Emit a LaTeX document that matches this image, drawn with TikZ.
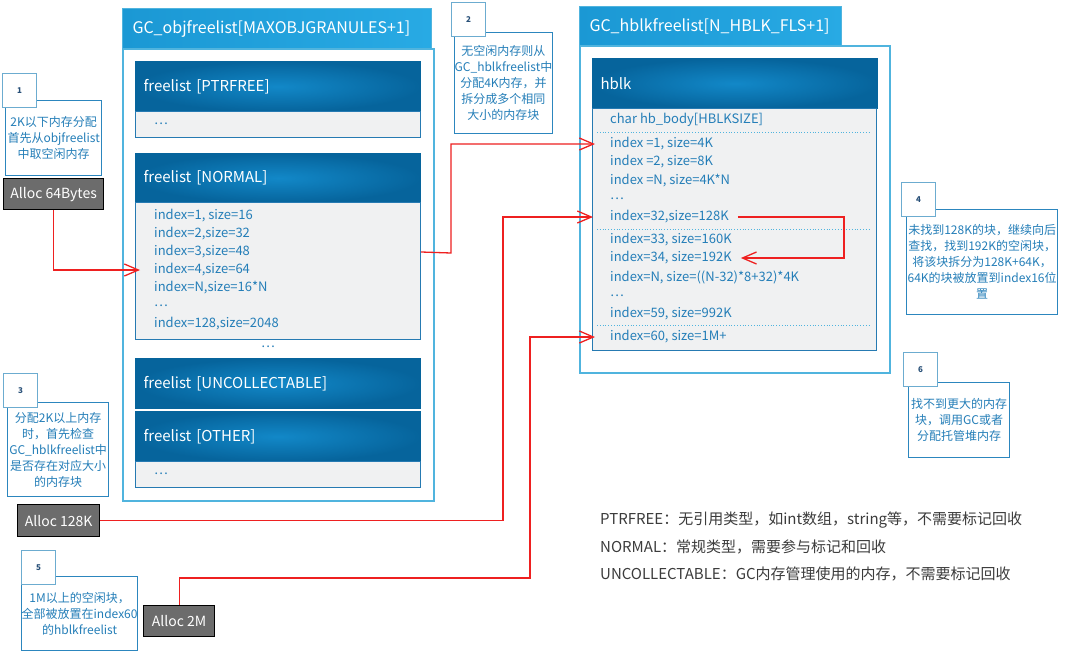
\documentclass[tikz,border=0pt]{standalone}
\usepackage{fontspec}
\setmainfont{Noto Sans CJK SC}
\usepackage{xcolor}
\usepackage{tikz}
\usetikzlibrary{arrows.meta, positioning}
\definecolor{tabblue}{RGB}{27,152,212}
\definecolor{tablight}{RGB}{40,170,228}
\definecolor{hdark}{RGB}{6,100,156}
\definecolor{hmid}{RGB}{18,136,200}
\definecolor{lineblue}{RGB}{80,180,222}
\definecolor{bordblue}{RGB}{38,122,178}
\definecolor{bodygray}{RGB}{240,241,242}
\definecolor{txtblue}{RGB}{36,126,184}
\definecolor{allocgray}{RGB}{108,108,108}
\definecolor{arrred}{RGB}{238,32,32}
\definecolor{notebord}{RGB}{44,134,190}
\definecolor{numbord}{RGB}{108,172,208}
\definecolor{numtext}{RGB}{40,80,120}
\definecolor{legtext}{RGB}{60,60,60}
\tikzstyle{outerbox} = [rectangle, anchor=north west, draw=lineblue, line width=1.5pt, fill=white, inner sep=0]
\tikzstyle{tabbox} = [rectangle, anchor=north west, draw=lineblue, line width=1pt, left color=tabblue, right color=tablight, text=white, inner xsep=10pt, inner ysep=0, align=left, font=\fontsize{16}{19}\selectfont]
\tikzstyle{listhead} = [rectangle, anchor=north west, draw=hdark, line width=1pt, inner color=hmid, outer color=hdark, text=white, text width=269pt, inner xsep=8pt, inner ysep=0, align=left, font=\fontsize{15}{18}\selectfont]
\tikzstyle{listbody} = [rectangle, anchor=north west, draw=bordblue, line width=1.2pt, fill=bodygray, minimum width=285pt, inner sep=0]
\tikzstyle{entry} = [anchor=west, inner xsep=3pt, inner ysep=1pt, text=txtblue, font=\fontsize{13}{15}\selectfont]
\tikzstyle{alloc} = [rectangle, anchor=north west, draw=black, line width=1.3pt, fill=allocgray, text=white, inner sep=0, font=\fontsize{14}{16}\selectfont]
\tikzstyle{note} = [rectangle, anchor=north west, draw=notebord, line width=1.3pt, fill=white, text=txtblue, align=center, inner sep=0, font=\fontsize{12}{16}\selectfont]
\tikzstyle{numbox} = [rectangle, anchor=north west, draw=numbord, line width=1.3pt, fill=white, minimum width=34pt, minimum height=34pt, text=numtext, inner sep=0, font=\fontsize{8}{10}\selectfont\bfseries]
\tikzstyle{legend} = [anchor=west, text=legtext, inner sep=0, font=\fontsize{15}{18}\selectfont]
\tikzstyle{sepline} = [draw=lineblue, dotted, line width=0.8pt]
\tikzstyle{redline} = [draw=arrred, line width=1.3pt]
\tikzstyle{redarrow} = [redline, -{Straight Barb[length=14pt,width=12pt]}]

\begin{document}
\begin{tikzpicture}[x=1pt, y=-1pt]
	\fill[white] (0,0) rectangle (1080,654);
	\useasboundingbox (0,0) rectangle (1080,654);

	\node (objbox) [outerbox, minimum width=311pt, minimum height=452pt] at (122,48) {};
	\node (objtab) [tabbox, text width=289pt, minimum height=40pt] at (122,8) {GC\_objfreelist[MAXOBJGRANULES+1]};
	\node (phead) [listhead, minimum height=50pt] at (135,61) {freelist [PTRFREE]};
	\node (pbody) [listbody, minimum height=26pt] at (135,111) {};
	\node (pd) [entry] at (151,124) {\ldots};
	\node (nhead) [listhead, minimum height=49pt] at (135,153) {freelist [NORMAL]};
	\node (nbody) [listbody, minimum height=137pt] at (135,202) {};
	\foreach \t [count=\i] in {{index=1, size=16}, {index=2,size=32}, {index=3,size=48}, {index=4,size=64}, {index=N,size=16*N}, {\ldots}, {index=128,size=2048}}
		\node (n\i) [entry] at (151,198+18*\i) {\t};
	\node (md) [entry] at (258,347) {\ldots};
	\node (uhead) [listhead, minimum height=50pt] at (135,358) {freelist [UNCOLLECTABLE]};
	\node (ohead) [listhead, minimum height=50pt] at (135,411) {freelist [OTHER]};
	\node (obody) [listbody, minimum height=26pt] at (135,461) {};
	\node (od) [entry] at (151,474) {\ldots};

	\node (hblkbox) [outerbox, minimum width=310pt, minimum height=327pt] at (579,45) {};
	\node (hblktab) [tabbox, text width=242pt, minimum height=39pt] at (579,6) {GC\_hblkfreelist[N\_HBLK\_FLS+1]};
	\node (hhead) [listhead, minimum height=50pt] at (592,58) {hblk};
	\node (hbody) [listbody, minimum width=284pt, minimum height=242pt] at (592,108) {};
	\foreach \y/\t/\nm in {120/{char hb\_body[HBLKSIZE]}/hb, 144/{index =1, size=4K}/h1, 162/{index =2, size=8K}/h2, 181/{index =N, size=4K*N}/hN, 199/{\ldots}/hd1, 217/{index=32,size=128K}/h32, 240/{index=33, size=160K}/h33, 258/{index=34, size=192K}/h34, 277/{index=N, size=((N-32)*8+32)*4K}/hM, 296/{\ldots}/hd2, 314/{index=59, size=992K}/h59, 337/{index=60, size=1M+}/h60}
		\node (\nm) [entry] at (607,\y) {\t};
	\foreach \y in {132,229,325}
		\draw[sepline] (597,\y) -- (871,\y);

	\node (note1) [note, minimum width=96pt, minimum height=75pt] at (5,100) {2K以下内存分配\\首先从objfreelist\\中取空闲内存};
	\node (num1) [numbox] at (2,73) {1};
	\node (note2) [note, minimum width=95pt, minimum height=101pt] at (454,32) {无空闲内存则从\\GC\_hblkfreelist中\\分配4K内存，并\\拆分成多个相同\\大小的内存块};
	\node (num2) [numbox] at (451,2) {2};
	\node (note3) [note, minimum width=101pt, minimum height=94pt] at (7,402) {分配2K以上内存\\时，首先检查\\GC\_hblkfreelist中\\是否存在对应大小\\的内存块};
	\node (num3) [numbox] at (3,373) {3};
	\node (note4) [note, minimum width=151pt, minimum height=105pt] at (906,209) {未找到128K的块，继续向后\\查找，找到192K的空闲块，\\将该块拆分为128K+64K，\\64K的块被放置到index16位\\置};
	\node (num4) [numbox] at (901,182) {4};
	\node (note5) [note, minimum width=115pt, minimum height=74pt] at (21,576) {1M以上的空闲块，\\全部被放置在index60\\的hblkfreelist};
	\node (num5) [numbox] at (21,550) {5};
	\node (note6) [note, minimum width=101pt, minimum height=75pt] at (908,382) {找不到更大的内存\\块，调用GC或者\\分配托管堆内存};
	\node (num6) [numbox] at (903,352) {6};

	\node (a64) [alloc, minimum width=100pt, minimum height=31pt] at (3,178) {Alloc 64Bytes};
	\node (a128) [alloc, minimum width=82pt, minimum height=32pt] at (17,504) {Alloc 128K};
	\node (a2m) [alloc, minimum width=71pt, minimum height=31pt] at (143,605) {Alloc 2M};

	\coordinate (k1) at (451,253);
	\coordinate (k2) at (503,400);
	\coordinate (k3) at (530,578);
	\coordinate (k4) at (844,237);
	\draw[redarrow] (a64.south) |- ([xshift=-11pt]n4.west);
	\draw[redarrow] (n3 -| nbody.east) -- (k1) |- ([xshift=-12pt]h1.west);
	\draw[redarrow] (a128.east) -| (k2) |- ([xshift=-14pt]h32.west);
	\draw[redarrow] (a2m.north) |- (k3) |- ([xshift=-12pt]h60.west);
	\draw[redarrow] ([xshift=6pt]h32.east) -| (k4) |- ([xshift=6pt]h34.east);

	\node (leg1) [legend] at (600,520) {PTRFREE：无引用类型，如int数组，string等，不需要标记回收};
	\node (leg2) [legend, below=27pt of leg1.west, anchor=west] {NORMAL：常规类型，需要参与标记和回收};
	\node (leg3) [legend, below=27pt of leg2.west, anchor=west] {UNCOLLECTABLE：GC内存管理使用的内存，不需要标记回收};
\end{tikzpicture}
\end{document}
